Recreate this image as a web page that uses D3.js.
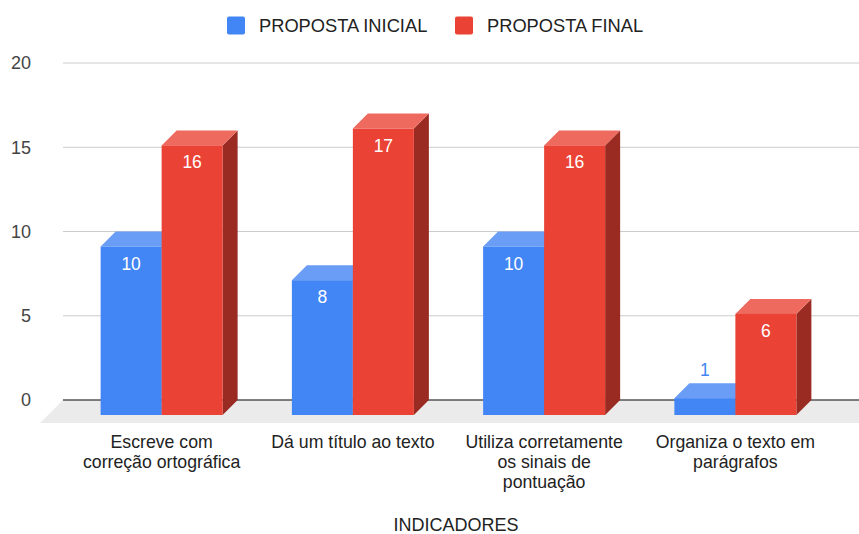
<!DOCTYPE html>
<html>
<head>
<meta charset="utf-8">
<script src="https://cdn.jsdelivr.net/npm/d3@7"></script>
<style>
  html, body { margin: 0; padding: 0; background: #fff; }
  svg { display: block; font-family: "Liberation Sans", Arial, sans-serif; }
</style>
</head>
<body>
<svg id="chart" width="859" height="534"></svg>
<script>
// ---- data ----
const categories = [
  "Escreve com\ncorreção ortográfica",
  "Dá um título ao texto",
  "Utiliza corretamente\nos sinais de\npontuação",
  "Organiza o texto em\nparágrafos"
];
const seriesNames = ["PROPOSTA INICIAL", "PROPOSTA FINAL"];
const propostaInicial = [10, 8, 10, 1];
const propostaFinal = [16, 17, 16, 6];
const yTicks = [0, 5, 10, 15, 20];
const axisTitle = "INDICADORES";

// ---- styles ----
const colors = [
  { front: "#4285f4", top: "#6a9df6", side: "#2e5daa", label: "#4285f4" },
  { front: "#ea4335", top: "#ee6a5f", side: "#992b23", label: "#ea4335" }
];
const depth = 15;

const svg = d3.select("#chart");
const W = 859, H = 534;

const y = d3.scaleLinear().domain([0, 20]).range([400, 63]);
const x = d3.scaleBand().domain(categories).range([66, 831]).padding(0);
const groupW = 122;
const xs = d3.scaleBand().domain(seriesNames).range([0, groupW]).padding(0);

// gridlines
svg.append("g").selectAll("line")
  .data(yTicks.filter(t => t !== 0))
  .join("line")
  .attr("x1", 63).attr("x2", W)
  .attr("y1", d => y(d)).attr("y2", d => y(d))
  .attr("stroke", "#cccccc").attr("stroke-width", 1);

// y tick labels
svg.append("g").selectAll("text")
  .data(yTicks)
  .join("text")
  .attr("x", 31).attr("y", d => y(d))
  .attr("dy", "0.35em")
  .attr("text-anchor", "end")
  .attr("font-size", 18)
  .attr("fill", "#444")
  .text(d => d);

// floor
const fd = 23;
svg.append("path")
  .attr("d", `M63,${y(0)} L${W + 30},${y(0)} L${W + 30 - fd},${y(0) + fd} L${63 - fd},${y(0) + fd} Z`)
  .attr("fill", "#ebebeb");

// baseline
svg.append("line")
  .attr("x1", 63).attr("x2", W)
  .attr("y1", y(0)).attr("y2", y(0))
  .attr("stroke", "#555").attr("stroke-width", 1.5);

// bars
const rows = [];
categories.forEach((c, i) => {
  [propostaInicial[i], propostaFinal[i]].forEach((v, s) => {
    rows.push({ c, s, v });
  });
});

const gBars = svg.append("g");
rows.forEach(r => {
  const x0 = x(r.c) + x.bandwidth() / 2 - groupW / 2 + xs(seriesNames[r.s]);
  const w = xs.bandwidth();
  const yt = y(r.v) + depth;      // front-face top
  const yb = y(0) + depth;        // front-face bottom
  const col = colors[r.s];
  const g = gBars.append("g");
  g.append("path")
    .attr("d", `M${x0 + w},${yt} L${x0 + w + depth},${yt - depth} L${x0 + w + depth},${yb - depth} L${x0 + w},${yb} Z`)
    .attr("fill", col.side);
  g.append("path")
    .attr("d", `M${x0},${yt} L${x0 + depth},${yt - depth} L${x0 + w + depth},${yt - depth} L${x0 + w},${yt} Z`)
    .attr("fill", col.top);
  g.append("rect")
    .attr("x", x0).attr("y", yt)
    .attr("width", w).attr("height", yb - yt)
    .attr("fill", col.front);
  const inside = (yb - yt) > 30;
  g.append("text")
    .attr("x", x0 + w / 2)
    .attr("y", inside ? yt + 23 : yt - depth - 7.5)
    .attr("text-anchor", "middle")
    .attr("font-size", 17.5)
    .attr("fill", inside ? "#ffffff" : col.label)
    .text(r.v);
});

// x labels
const gx = svg.append("g");
categories.forEach(c => {
  const lines = c.split("\n");
  const t = gx.append("text")
    .attr("x", x(c) + x.bandwidth() / 2)
    .attr("y", 447.5)
    .attr("text-anchor", "middle")
    .attr("font-size", 17.7)
    .attr("fill", "#222");
  lines.forEach((ln, k) => {
    t.append("tspan")
      .attr("x", x(c) + x.bandwidth() / 2)
      .attr("dy", k === 0 ? 0 : 20)
      .text(ln);
  });
});

// axis title
svg.append("text")
  .attr("x", 456).attr("y", 531)
  .attr("text-anchor", "middle")
  .attr("font-size", 18)
  .attr("fill", "#222")
  .text(axisTitle);

// legend
const legend = [
  { name: seriesNames[0], color: colors[0].front, x: 227, tx: 259 },
  { name: seriesNames[1], color: colors[1].front, x: 455, tx: 487 }
];
const gl = svg.append("g");
legend.forEach(l => {
  gl.append("rect")
    .attr("x", l.x).attr("y", 16.5)
    .attr("width", 18).attr("height", 18)
    .attr("rx", 2)
    .attr("fill", l.color);
  gl.append("text")
    .attr("x", l.tx).attr("y", 25.5)
    .attr("dy", "0.35em")
    .attr("font-size", 18.3)
    .attr("fill", "#222")
    .text(l.name);
});
</script>
</body>
</html>
